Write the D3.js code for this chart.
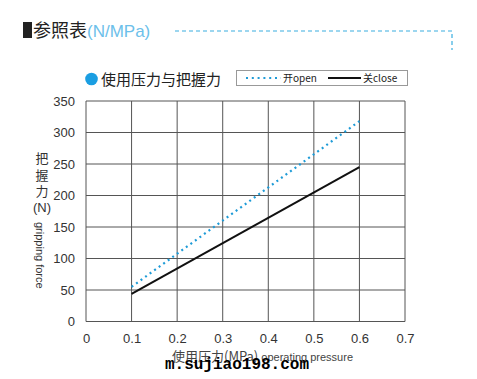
<!DOCTYPE html>
<html>
<head>
<meta charset="utf-8">
<script src="https://cdn.jsdelivr.net/npm/d3@7"></script>
<style>
  body { margin: 0; background: #fff; }
  svg { display: block; font-family: "Liberation Sans", Arial, sans-serif; }
</style>
</head>
<body>
<div id="chart"></div>
<script>
// data
var pressure = [0.1, 0.6];
var openForce = [55, 318];
var closeForce = [44, 245];
var xTicks = [0, 0.1, 0.2, 0.3, 0.4, 0.5, 0.6, 0.7];
var yTicks = [0, 50, 100, 150, 200, 250, 300, 350];

var width = 477, height = 379;
var cjk = "'Noto Sans CJK SC', sans-serif";

var svg = d3.select("#chart").append("svg")
  .attr("width", width)
  .attr("height", height);

svg.append("rect").attr("width", width).attr("height", height).attr("fill", "#fff");

// header
svg.append("rect").attr("x", 23).attr("y", 22).attr("width", 9).attr("height", 16).attr("fill", "#222");
var head = svg.append("text").attr("x", 33).attr("y", 37).attr("font-size", 18).attr("font-family", cjk);
head.append("tspan").attr("fill", "#222").text("参照表");
head.append("tspan").attr("fill", "#6cc0ea").attr("font-size", 17)
  .attr("font-family", "'Liberation Sans', Arial, sans-serif").text("(N/MPa)");

svg.append("path")
  .attr("d", "M175,31H452V50")
  .attr("fill", "none")
  .attr("stroke", "#3aaee0")
  .attr("stroke-width", 1.2)
  .attr("stroke-dasharray", "4,3");

// scales
var x = d3.scaleLinear().domain([0, 0.7]).range([86, 405]);
var y = d3.scaleLinear().domain([0, 350]).range([321.5, 101]);

// grid
var grid = svg.append("g");
grid.selectAll(".vx").data(xTicks).enter().append("line")
  .attr("x1", function(d) { return x(d); })
  .attr("x2", function(d) { return x(d); })
  .attr("y1", y(0)).attr("y2", y(350))
  .attr("stroke", "#555").attr("stroke-width", 1);
grid.selectAll(".hy").data(yTicks).enter().append("line")
  .attr("y1", function(d) { return y(d); })
  .attr("y2", function(d) { return y(d); })
  .attr("x1", x(0)).attr("x2", x(0.7))
  .attr("stroke", "#555").attr("stroke-width", 1);

// axes (labels only)
var xAxis = d3.axisBottom(x).tickValues(xTicks).tickSize(0).tickPadding(12)
  .tickFormat(function(d) { return d === 0 ? "0" : d3.format(".1f")(d); });
var yAxis = d3.axisLeft(y).tickValues(yTicks).tickSize(0).tickPadding(11);

svg.append("g").attr("transform", "translate(0," + y(0) + ")").call(xAxis)
  .call(function(g) { g.select(".domain").remove(); })
  .selectAll("text").attr("font-size", 13).attr("fill", "#333")
  .attr("font-family", "'Liberation Sans', Arial, sans-serif");
svg.append("g").attr("transform", "translate(" + x(0) + ",0)").call(yAxis)
  .call(function(g) { g.select(".domain").remove(); })
  .selectAll("text").attr("font-size", 13).attr("fill", "#333")
  .attr("font-family", "'Liberation Sans', Arial, sans-serif");

// lines
var line = d3.line()
  .x(function(d) { return x(d[0]); })
  .y(function(d) { return y(d[1]); });

svg.append("path")
  .datum(d3.zip(pressure, openForce))
  .attr("d", line)
  .attr("fill", "none")
  .attr("stroke", "#1e9bd7")
  .attr("stroke-width", 2.2)
  .attr("stroke-dasharray", "2,3.6");

svg.append("path")
  .datum(d3.zip(pressure, closeForce))
  .attr("d", line)
  .attr("fill", "none")
  .attr("stroke", "#111")
  .attr("stroke-width", 2);

// legend title
svg.append("circle").attr("cx", 91.5).attr("cy", 79).attr("r", 6.3).attr("fill", "#1a9ee2");
svg.append("text").attr("x", 101).attr("y", 85).attr("font-size", 15)
  .attr("font-family", cjk).attr("fill", "#222").text("使用压力与把握力");

// legend box
svg.append("rect").attr("x", 236.5).attr("y", 70.5).attr("width", 171).attr("height", 15)
  .attr("fill", "#fff").attr("stroke", "#999").attr("stroke-width", 1);
svg.append("line").attr("x1", 246).attr("x2", 281).attr("y1", 78).attr("y2", 78)
  .attr("stroke", "#1e9bd7").attr("stroke-width", 2).attr("stroke-dasharray", "2,3.8");
svg.append("text").attr("x", 283).attr("y", 82).attr("font-size", 10)
  .attr("font-family", cjk).attr("fill", "#222").text("开open");
svg.append("line").attr("x1", 328).attr("x2", 361).attr("y1", 78).attr("y2", 78)
  .attr("stroke", "#111").attr("stroke-width", 2);
svg.append("text").attr("x", 363).attr("y", 82).attr("font-size", 10)
  .attr("font-family", cjk).attr("fill", "#222").text("关close");

// y axis title
var yt = ["把", "握", "力"];
yt.forEach(function(c, i) {
  svg.append("text").attr("x", 42).attr("y", 163 + i * 16.5).attr("text-anchor", "middle")
    .attr("font-size", 13).attr("font-family", cjk).attr("fill", "#333").text(c);
});
svg.append("text").attr("x", 42).attr("y", 212).attr("text-anchor", "middle")
  .attr("font-size", 13).attr("fill", "#333").text("(N)");
svg.append("text")
  .attr("transform", "translate(36,222) rotate(90)")
  .attr("font-size", 11).attr("fill", "#333").text("gripping force");

// x axis title
var xt = svg.append("text").attr("x", 172).attr("y", 361).attr("fill", "#444");
xt.append("tspan").attr("font-size", 13).attr("font-family", cjk).text("使用压力(MPa)");
xt.append("tspan").attr("font-size", 11).attr("dx", 3).text("operating pressure");

// watermark
svg.append("text").attr("x", 165).attr("y", 369)
  .attr("font-family", "'Liberation Mono', monospace").attr("font-weight", "bold")
  .attr("font-size", 16).attr("fill", "#000").text("m.sujiao198.com");
</script>
</body>
</html>
